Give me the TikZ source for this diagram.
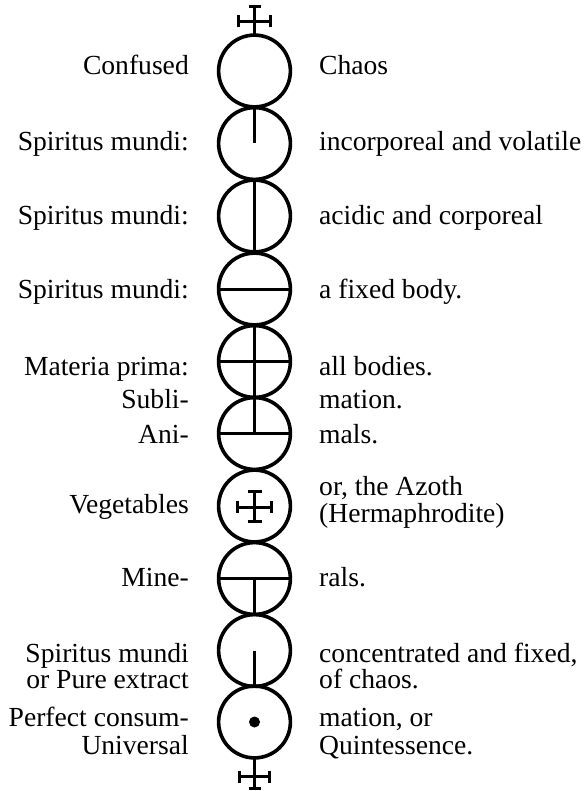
\documentclass[tikz,border=0pt]{standalone}
\usepackage{fontspec}
\setmainfont{Liberation Serif}
\usetikzlibrary{calc}

\begin{document}
\begin{tikzpicture}[
  x=1pt, y=-1pt,
  every node/.style={font=\fontsize{27.6}{30}\selectfont, inner sep=0pt},
  orb/.style={circle, draw, line width=3.6pt, minimum size=71.8pt, outer sep=0pt},
  bar/.style={line width=3pt},
  lefttext/.style={anchor=base east},
  righttext/.style={anchor=base west},
]
\useasboundingbox (0,0) rectangle (583,791);

% chain of circles
\node[orb] (chaos)     at (254.5,71)    {};
\node[orb] (volatile)  at (254.5,143.5) {};
\node[orb] (corporeal) at (254.5,216)   {};
\node[orb] (fixed)     at (254.5,289)   {};
\node[orb] (prima)     at (254.5,361.5) {};
\node[orb] (animals)   at (254.5,433.5) {};
\node[orb] (azoth)     at (254.5,506)   {};
\node[orb] (minerals)  at (254.5,578.5) {};
\node[orb] (extract)   at (254.5,650.5) {};
\node[orb] (quint)     at (254.5,722)   {};

% cross on top
\draw[bar] (chaos.north) -- ++(0,-29) coordinate (toptip);
\draw[bar] ($(toptip)+(-6,0)$) -- ++(12,0);
\draw[bar] ($(chaos.north)+(-16,-14)$) -- ++(32,0);
\draw[bar] ($(chaos.north)+(-16,-20)$) -- ++(0,12);
\draw[bar] ($(chaos.north)+(16,-20)$) -- ++(0,12);

% strokes inside the circles
\draw[bar] (volatile.north) -- (volatile.center);
\draw[bar] (corporeal.north) -- (corporeal.south);
\draw[bar] (fixed.west) -- (fixed.east);
\draw[bar] (prima.north) -- (prima.south);
\draw[bar] (prima.west) -- (prima.east);
\draw[bar] (animals.north) -- (animals.center);
\draw[bar] (animals.west) -- (animals.east);
\draw[bar] ($(azoth.center)+(0,-15)$) -- ($(azoth.center)+(0,15)$);
\draw[bar] ($(azoth.center)+(-7,-15)$) -- ++(14,0);
\draw[bar] ($(azoth.center)+(-7,15)$) -- ++(14,0);
\draw[bar] ($(azoth.center)+(-17,1)$) -- ($(azoth.center)+(17,1)$);
\draw[bar] ($(azoth.center)+(-17,-5)$) -- ++(0,12);
\draw[bar] ($(azoth.center)+(17,-5)$) -- ++(0,12);
\draw[bar] (minerals.west) -- (minerals.east);
\draw[bar] (minerals.center) -- (minerals.south);
\draw[bar] (extract.center) -- (extract.south);
\fill (quint.center) circle (5.5);

% cross below
\draw[bar] (quint.south) -- ++(0,31) coordinate (bottip);
\draw[bar] ($(bottip)+(-6,0)$) -- ++(12,0);
\draw[bar] ($(quint.south)+(-15,19)$) -- ++(30,0);
\draw[bar] ($(quint.south)+(-15,13)$) -- ++(0,12);
\draw[bar] ($(quint.south)+(15,13)$) -- ++(0,12);

% left column
\node[lefttext] (lconfused) at (189,75)  {Confused};
\node[lefttext] (lspirit1)  at (189,151) {Spiritus mundi:};
\node[lefttext] (lspirit2)  at (189,225) {Spiritus mundi:};
\node[lefttext] (lspirit3)  at (189,298) {Spiritus mundi:};
\node[lefttext] (lmateria)  at (189,375) {Materia prima:};
\node[lefttext] (lsubli)    at (189,408) {Subli-};
\node[lefttext] (lani)      at (189,443) {Ani-};
\node[lefttext] (lveget)    at (189,513) {Vegetables};
\node[lefttext] (lmine)     at (189,586) {Mine-};
\node[lefttext] (lspirit4)  at (189,662) {Spiritus mundi};
\node[lefttext] (lpure)     at (189,688) {or Pure extract};
\node[lefttext] (lperfect)  at (189,726) {Perfect consum-};
\node[lefttext] (luniv)     at (189,754) {Universal};

% right column
\node[righttext] (rchaos)    at (319,75)  {Chaos};
\node[righttext] (rincorp)   at (319,151) {incorporeal and volatile};
\node[righttext] (racidic)   at (319,225) {acidic and corporeal};
\node[righttext] (rbody)     at (319,298) {a fixed body.};
\node[righttext] (rall)      at (319,375) {all bodies.};
\node[righttext] (rmation)   at (319,408) {mation.};
\node[righttext] (rmals)     at (319,443) {mals.};
\node[righttext] (razoth)    at (319,495) {or, the Azoth};
\node[righttext] (rherm)     at (319,522) {(Hermaphrodite)};
\node[righttext] (rrals)     at (319,586) {rals.};
\node[righttext] (rconc)     at (319,662) {concentrated and fixed,};
\node[righttext] (rofchaos)  at (319,688) {of chaos.};
\node[righttext] (rmation2)  at (319,726) {mation, or};
\node[righttext] (rquint)    at (319,754) {Quintessence.};
\end{tikzpicture}
\end{document}
